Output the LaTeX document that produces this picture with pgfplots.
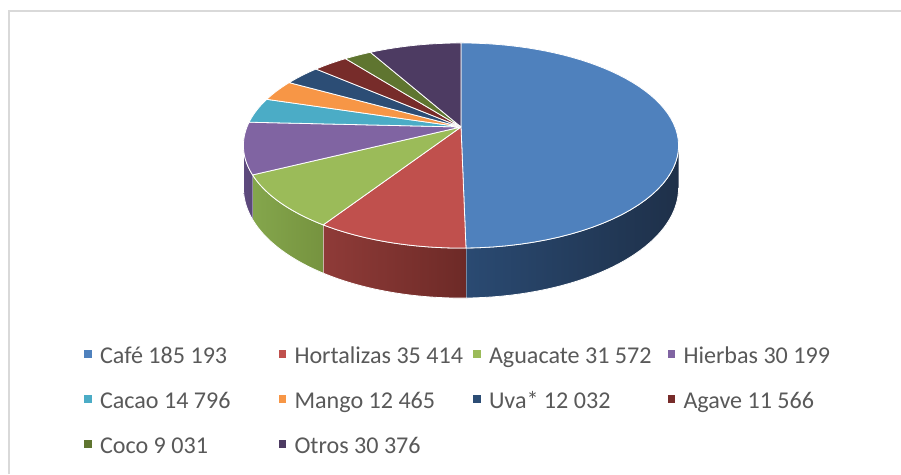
\documentclass[border=0pt]{standalone}
\usepackage{pgfplots}
\pgfplotsset{compat=1.18}
\usepackage{pgfplotstable}
\usepackage{fontspec}
\setmainfont{Carlito}

\definecolor{c0}{HTML}{4F81BD}
\definecolor{c1}{HTML}{C0504D}
\definecolor{c2}{HTML}{9BBB59}
\definecolor{c3}{HTML}{8064A2}
\definecolor{c4}{HTML}{4BACC6}
\definecolor{c5}{HTML}{F79646}
\definecolor{c6}{HTML}{2C4D75}
\definecolor{c7}{HTML}{772C2A}
\definecolor{c8}{HTML}{5F7530}
\definecolor{c9}{HTML}{4D3B62}
\definecolor{wl0}{HTML}{2A4A72}
\definecolor{wr0}{HTML}{1E3049}
\definecolor{wl1}{HTML}{8F3B38}
\definecolor{wr1}{HTML}{6D2A27}
\definecolor{wl2}{HTML}{84A64C}
\definecolor{wr2}{HTML}{76933F}
\definecolor{wl3}{HTML}{5E4A7E}
\definecolor{wr3}{HTML}{5A4778}
\definecolor{legtext}{HTML}{595959}
\definecolor{frame}{HTML}{D9D9D9}

\pgfplotstableread[col sep=comma]{
name,value
Café,185193
Hortalizas,35414
Aguacate,31572
Hierbas,30199
Cacao,14796
Mango,12465
Uva*,12032
Agave,11566
Coco,9031
Otros,30376
}\piedata

% cumulative angles (clockwise from 12 o'clock)
\xdef\pietotal{0}
\pgfplotsforeachungrouped \i in {0,...,9}{%
  \pgfplotstablegetelem{\i}{value}\of\piedata
  \xdef\pietotal{\fpeval{\pietotal+\pgfplotsretval}}%
}
\xdef\piecum{0}
\pgfplotsforeachungrouped \i in {0,...,9}{%
  \pgfplotstablegetelem{\i}{value}\of\piedata
  \expandafter\xdef\csname pieV\i\endcsname{\pgfplotsretval}%
  \expandafter\xdef\csname pieS\i\endcsname{\fpeval{round(\piecum/\pietotal*360,4)}}%
  \xdef\piecum{\fpeval{\piecum+\pgfplotsretval}}%
  \expandafter\xdef\csname pieE\i\endcsname{\fpeval{round(\piecum/\pietotal*360,4)}}%
  \pgfplotstablegetelem{\i}{name}\of\piedata
  \expandafter\xdef\csname pieN\i\endcsname{\pgfplotsretval}%
}

\begin{document}
\begin{tikzpicture}
\begin{axis}[
  width=901pt, height=474pt, scale only axis,
  xmin=0, xmax=901, ymin=0, ymax=474, y dir=reverse,
  hide axis, clip=false,
  declare function={
    px(\th,\r) = 461 + \r*214*sin(\th)/(1+0.1805*cos(\th));
    py(\th,\r,\d) = 127 + (-\r*99.2*cos(\th) + \d*41)/(1+0.1805*cos(\th));
    tht(\t,\a,\b) = \a + (\b-\a)*(\t-1)/59;
    rr(\t) = ((\t<0.5) || (\t>60.5)) ? 0 : 1;
    thw(\t,\a,\b) = (\t<39.5) ? (\a+(\b-\a)*\t/39) : (\b-(\b-\a)*(\t-40)/39);
    dw(\t) = (\t<39.5) ? 0 : 1;
  },
  legend columns=4,
  legend cell align=left,
  legend image code/.code={\fill[#1,draw=none] (0pt,-3.05pt) rectangle (7.5pt,4.45pt);},
  legend style={at={(axis cs:84,345)}, anchor=north west, draw=none, fill=none,
    inner sep=0pt, outer sep=0pt, row sep=25.5pt,
    font=\fontsize{24.1}{28}\selectfont, text=legtext,
    nodes={inner sep=0pt},
    /tikz/every odd column/.append style={column sep=8.5pt},
    /tikz/every even column/.append style={column sep=0.5pt}},
]
% chart frame
\draw[frame, line width=1.5pt] (axis cs:9,474) -- (axis cs:9,11) -- (axis cs:901,11);

% side walls (front, visible part)
\pgfplotsinvokeforeach{0,...,3}{
  \addplot[forget plot, draw=white, line width=0.8pt, left color=wl#1, right color=wr#1,
    domain=0:79, samples=80, variable=\t]
  ({px(thw(\t,max(\csname pieS#1\endcsname,100.4),min(\csname pieE#1\endcsname,259.6)),1)},
   {py(thw(\t,max(\csname pieS#1\endcsname,100.4),min(\csname pieE#1\endcsname,259.6)),1,dw(\t))});
}

% top faces
\pgfplotsinvokeforeach{0,...,9}{
  \addplot[fill=c#1, draw=white, line width=0.8pt, domain=0:61, samples=62, variable=\t]
  ({px(tht(\t,\csname pieS#1\endcsname,\csname pieE#1\endcsname),rr(\t))},
   {py(tht(\t,\csname pieS#1\endcsname,\csname pieE#1\endcsname),rr(\t),0)});
  \addlegendentry{\makebox[178pt][l]{\rule[-6pt]{0pt}{24pt}\csname pieN#1\endcsname\ \pgfmathprintnumber[fixed,precision=0,assume math mode=true,1000 sep={\ }]{\csname pieV#1\endcsname}}}
}
\end{axis}
\pgfresetboundingbox
\path (current axis.south west) rectangle (current axis.north east);
\end{tikzpicture}
\end{document}
